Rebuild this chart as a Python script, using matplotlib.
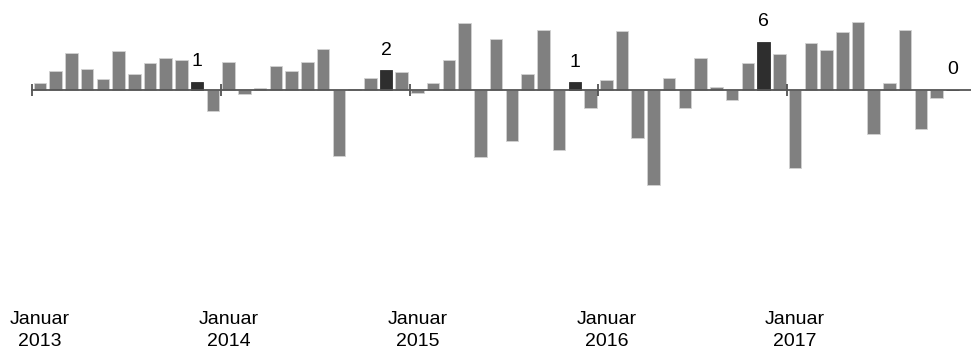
import matplotlib.pyplot as plt
import matplotlib.transforms as mtransforms
import numpy as np

plt.rcParams['font.family'] = ['Liberation Sans', 'DejaVu Sans']

# monthly change, Jan 2013 - Nov 2017
values = [0.8, 2.3, 4.6, 2.6, 1.3, 4.8, 1.9, 3.3, 4.0, 3.7, 1.0, -2.7,
          3.4, -0.5, 0.2, 3.0, 2.3, 3.5, 5.1, -8.3, 0.1, 1.5, 2.4, 2.2,
          -0.4, 0.8, 3.7, 8.3, -8.4, 6.3, -6.4, 1.9, 7.4, -7.5, 0.9, -2.3,
          1.2, 7.3, -6.0, -11.9, 1.5, -2.3, 4.0, 0.3, -1.3, 3.3, 6.0, 4.4,
          -9.8, 5.8, 5.0, 7.2, 8.5, -5.6, 0.8, 7.4, -4.9, -1.0, 0.0]
highlight = [10, 22, 34, 46, 58]   # november each year
years = ['2013', '2014', '2015', '2016', '2017']

x = np.arange(len(values))
colors = ['#2e2e2e' if i in highlight else '#808080' for i in x]
edges = ['#2e2e2e' if i in highlight else '#d2d2d2' for i in x]

fig = plt.figure(figsize=(9.71, 3.49), dpi=100)
ax = fig.add_axes([32 / 971, 0, 944 / 971, 1])

ax.bar(x, values, width=0.8, color=colors, edgecolor=edges, linewidth=0.6)

# px per unit ~ 8, zero line at ~89.5 px from top
ax.set_ylim(-(349 - 89.5) / 8, 89.5 / 8)
ax.set_xlim(-0.5, len(values) + 0.5)

for s in ['top', 'left', 'right']:
    ax.spines[s].set_visible(False)
ax.spines['bottom'].set_position(('data', 0))
ax.spines['bottom'].set_color('#555555')
ax.spines['bottom'].set_linewidth(1.3)

ax.set_yticks([])
ax.set_xticks([i * 12 - 0.5 for i in range(len(years))])
ax.set_xticklabels([])
ax.tick_params(axis='x', direction='inout', length=8.6, width=1.1, color='#333333')

for i in highlight:
    ax.annotate(f'{round(values[i]):.0f}', (x[i], max(values[i], 0)),
                xytext=(0, 11), textcoords='offset points',
                ha='center', va='baseline', fontsize=14, color='black')

trans = mtransforms.blended_transform_factory(ax.transData, ax.transAxes)
for k, yr in enumerate(years):
    ax.text(k * 12, 0.109, 'Januar\n' + yr, transform=trans,
            ha='center', va='top', fontsize=14, linespacing=1.4)

fig.savefig('out.png', dpi=100)
